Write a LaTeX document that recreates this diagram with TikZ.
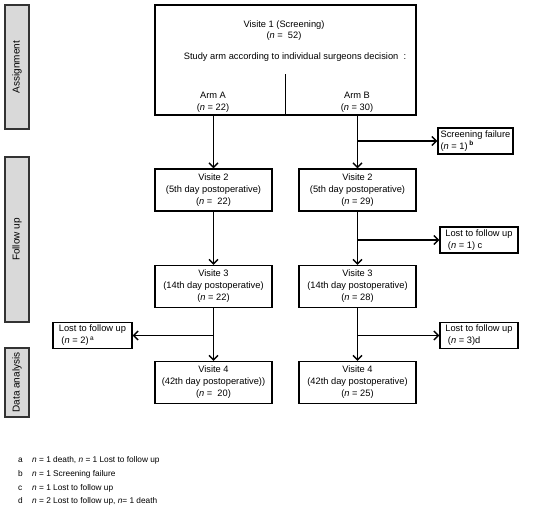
\documentclass[tikz,border=0pt]{standalone}
\usepackage{fontspec}
\setmainfont{Liberation Sans}
\usetikzlibrary{arrows.meta,positioning}
\definecolor{bargrey}{RGB}{217,217,217}
\newcommand{\nn}{\textit{n}}

\begin{document}
\begin{tikzpicture}[x=1pt, y=-1pt,
  font=\fontsize{9.3}{12}\selectfont,
  label/.style={align=center, inner sep=1pt},
  box/.style={rectangle, draw, line width=1.3pt, minimum width=117pt, minimum height=42pt, align=center, inner sep=1pt},
  smallbox/.style={rectangle, draw, line width=1.3pt, minimum width=78pt, minimum height=26pt, align=left, inner sep=2pt},
  sidebar/.style={rectangle, draw=black!80, line width=1.2pt, fill=bargrey, rotate=90, minimum height=24pt, inner sep=1pt, font=\fontsize{10}{12}\selectfont},
  arrow/.style={-{Straight Barb[length=4.5pt, width=9pt, line width=1.4pt]}, line width=1.6pt},
  note/.style={anchor=base west, font=\fontsize{8.3}{10}\selectfont, inner sep=0pt}
]
\useasboundingbox (0,0) rectangle (550,509);

% phase bars
\node[sidebar, minimum width=124pt] (assign) at (17,67) {Assignment};
\node[sidebar, minimum width=165pt] (follow) at (17,239.5) {Follow up};
\node[sidebar, minimum width=69pt] (analysis) at (17,382.5) {Data analysis};

% visit 1 and the two arms
\node[box, minimum width=261pt, minimum height=110pt] (visit1) at (285.5,60) {};
\node[label, font=\fontsize{9.3}{10.5}\selectfont] (v1title) at (284,30.5) {Visite 1 (Screening)\\(\nn{} =\ \ 52)};
\node[label] (study) at (295,57) {Study arm according to individual surgeons decision\ \ :};
\node[label] (armA) at (213,102.5) {Arm A\\(\nn{} = 22)};
\node[label] (armB) at (357,102.5) {Arm B\\(\nn{} = 30)};
\coordinate (split) at (285.5,74);
\draw[line width=1.2pt] (split) -- (split |- visit1.south);

% arm A
\node[box] (v2a) at (213.5,190) {Visite 2\\(5th day postoperative)\\(\nn{} =\ \ 22)};
\node[box] (v3a) at (213.5,286.5) {Visite 3\\(14th day postoperative)\\(\nn{} = 22)};
\node[box] (v4a) at (213.5,382.5) {Visite 4\\(42th day postoperative))\\(\nn{} =\ \ 20)};
\node[smallbox, minimum width=79pt] (lostab) at (92.5,335.5) {Lost to follow up\\\ (\nn{} = 2)\,\textsuperscript{a}};

% arm B
\node[box] (v2b) at (357.5,190) {Visite 2\\(5th day postoperative)\\(\nn{} = 29)};
\node[box] (v3b) at (357.5,286.5) {Visite 3\\(14th day postoperative)\\(\nn{} = 28)};
\node[box] (v4b) at (357.5,382.5) {Visite 4\\(42th day postoperative)\\(\nn{} = 25)};
\node[smallbox, minimum width=75pt] (sf) at (475.5,141) {Screening failure\\(\nn{} = 1)\,\textsuperscript{\textbf{b}}};
\node[smallbox] (lostc) at (479,240) {Lost to follow up\\\ (\nn{} = 1) c};
\node[smallbox] (lostd) at (479,335.5) {Lost to follow up\\\ (\nn{} = 3)d};

% connectors
\draw[arrow] (v2a |- visit1.south) -- (v2a);
\draw[arrow] (v2b |- visit1.south) -- (v2b);
\draw[arrow] (v2b |- sf) -- (sf);
\draw[arrow] (v2a) -- (v3a);
\draw[arrow] (v2b) -- (v3b);
\draw[arrow] (v2b |- lostc) -- (lostc);
\draw[arrow] (v3a) -- (v4a);
\draw[arrow] (v3b) -- (v4b);
\draw[arrow] (v3a |- lostab) -- (lostab);
\draw[arrow] (v3b |- lostd) -- (lostd);

% footnotes
\node[note] (fna) at (18,462) {\makebox[14pt][l]{a}\nn{} = 1 death, \nn{} = 1 Lost to follow up};
\node[note] (fnb) at (18,476) {\makebox[14pt][l]{b}\nn{} = 1 Screening failure};
\node[note] (fnc) at (18,490) {\makebox[14pt][l]{c}\nn{} = 1 Lost to follow up};
\node[note] (fnd) at (18,503) {\makebox[14pt][l]{d}\nn{} = 2 Lost to follow up, \nn{}=\ 1 death};
\end{tikzpicture}
\end{document}
